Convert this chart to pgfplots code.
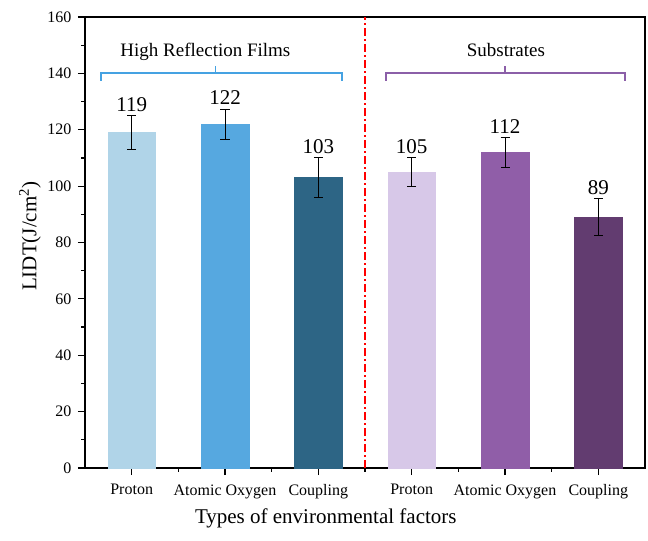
\documentclass[border=0pt]{standalone}
\usepackage{pgfplots}
\pgfplotsset{compat=1.18}
\usepackage{fontspec}
\setmainfont{Liberation Serif}
\definecolor{b1}{HTML}{B0D4E8}
\definecolor{b2}{HTML}{56A8E0}
\definecolor{b3}{HTML}{2D6585}
\definecolor{b4}{HTML}{D7C8E8}
\definecolor{b5}{HTML}{905EA8}
\definecolor{b6}{HTML}{623C70}
\definecolor{brblue}{HTML}{45A2E2}
\definecolor{brpurp}{HTML}{8B5FA8}
\begin{document}
\begin{tikzpicture}
\begin{axis}[
  scale only axis,
  width=560bp, height=451bp,
  xmin=0.5, xmax=6.5, ymin=0, ymax=160,
  axis line style={line width=1.4bp},
  xtick={1,2,3,4,5,6},
  xticklabels={Proton,Atomic Oxygen,Coupling,Proton,Atomic Oxygen,Coupling},
  minor xtick={1.5,2.5,3.5,4.5,5.5},
  ytick={0,20,...,160},
  minor ytick={10,30,...,150},
  tick align=outside,
  xtick pos=lower, ytick pos=left,
  major tick length=7bp, minor tick length=3.5bp,
  tick style={black, line width=1.2bp},
  /pgf/number format/assume math mode=true,
  ticklabel style={font=\fontsize{16bp}{19bp}\selectfont},
  xticklabel style={yshift=-6bp},
  yticklabel style={xshift=-3bp},
  xlabel={Types of environmental factors},
  ylabel={LIDT(J/cm\textsuperscript{2})},
  label style={font=\fontsize{21bp}{25bp}\selectfont},
  xlabel style={at={(axis description cs:0.43,-0.111)}, anchor=center},
  ylabel style={at={(axis description cs:-0.098,0.514)}, anchor=center},
  error bars/error bar style={black, line width=1bp},
  error bars/error mark options={rotate=90, mark size=4.5bp, line width=1bp, black},
  every axis plot/.append style={bar width=0.51, bar shift=0pt},
]
\addplot[ybar, fill=b1, draw=b1, error bars/.cd, y dir=both, y explicit] coordinates {(1,119) +- (0,5.9)};
\addplot[ybar, fill=b2, draw=b2, error bars/.cd, y dir=both, y explicit] coordinates {(2,122) +- (0,5.3)};
\addplot[ybar, fill=b3, draw=b3, error bars/.cd, y dir=both, y explicit] coordinates {(3,103) +- (0,7.0)};
\addplot[ybar, fill=b4, draw=b4, error bars/.cd, y dir=both, y explicit] coordinates {(4,105) +- (0,5.0)};
\addplot[ybar, fill=b5, draw=b5, error bars/.cd, y dir=both, y explicit] coordinates {(5,112) +- (0,5.3)};
\addplot[ybar, fill=b6, draw=b6, error bars/.cd, y dir=both, y explicit] coordinates {(6,89) +- (0,6.6)};
% value labels
\addplot[draw=none, mark=none, nodes near coords, point meta=explicit symbolic,
  every node near coord/.style={anchor=south, inner sep=0pt, yshift=4bp, font=\fontsize{21bp}{25bp}\selectfont, black}]
  coordinates {(1,124.9)[119] (2,127.3)[122] (3,110)[103] (4,110)[105] (5,117.3)[112] (6,95.6)[89]};
% divider
\addplot[red, line width=1.5bp, dash pattern=on 8bp off 3bp on 2bp off 3bp] coordinates {(3.5,0) (3.5,160)};
% brackets
\addplot[brblue, line width=1.3bp, mark=none] coordinates {(0.671,137.3) (0.671,140.1) (3.254,140.1) (3.254,137.3)};
\addplot[brblue, line width=1.3bp, mark=none] coordinates {(1.90,140.1) (1.90,142.6)};
\addplot[brpurp, line width=1.3bp, mark=none] coordinates {(3.725,137.3) (3.725,140.1) (6.286,140.1) (6.286,137.3)};
\addplot[brpurp, line width=1.3bp, mark=none] coordinates {(5.0,140.1) (5.0,142.6)};
\node[anchor=base, font=\fontsize{19bp}{23bp}\selectfont] at (axis cs:1.79,146) {High Reflection Films};
\node[anchor=base, font=\fontsize{19bp}{23bp}\selectfont] at (axis cs:5.01,146) {Substrates};
\end{axis}
\pgfresetboundingbox
\path ([shift={(-85bp,-73bp)}]current axis.south west) rectangle ([shift={(3bp,17bp)}]current axis.north east);
\end{tikzpicture}
\end{document}
